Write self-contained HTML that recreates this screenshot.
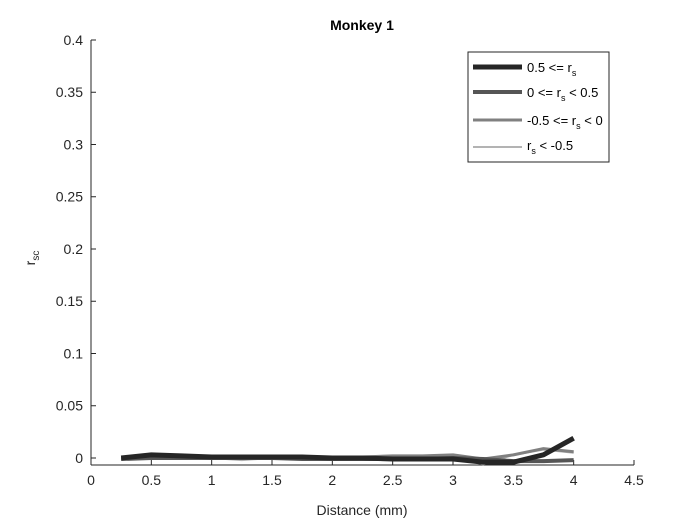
<!DOCTYPE html>
<html><head><meta charset="utf-8"><style>
body{margin:0;background:#fff;font-family:"Liberation Sans",sans-serif}
svg text{font-family:"Liberation Sans",sans-serif}
</style></head><body>
<svg width="700" height="525">
<rect width="700" height="525" fill="#fff"/>
<g id="axes"></g><g id="series"></g>
<text x="362" y="30" text-anchor="middle" font-size="14" font-weight="bold">Monkey 1</text>
<text x="362" y="515" text-anchor="middle" font-size="14" fill="#262626">Distance (mm)</text>
<text transform="translate(35,258) rotate(-90)" text-anchor="middle" font-size="14" fill="#262626">r<tspan font-size="10" dy="4">sc</tspan></text>
<g>
<rect x="468" y="52" width="141" height="110" fill="#fff" stroke="#262626" stroke-width="1"/>
<line x1="473" y1="67" x2="522" y2="67" stroke="#262626" stroke-width="5"/>
<text x="527" y="72" font-size="13">0.5 &lt;= r<tspan font-size="9" dy="4">s</tspan></text>
<line x1="473" y1="92" x2="522" y2="92" stroke="#555" stroke-width="4"/>
<text x="527" y="97" font-size="13">0 &lt;= r<tspan font-size="9" dy="4">s</tspan><tspan dy="-4"> &lt; 0.5</tspan></text>
<line x1="473" y1="120" x2="522" y2="120" stroke="#808080" stroke-width="3"/>
<text x="527" y="125" font-size="13">-0.5 &lt;= r<tspan font-size="9" dy="4">s</tspan><tspan dy="-4"> &lt; 0</tspan></text>
<line x1="473" y1="147" x2="522" y2="147" stroke="#b3b3b3" stroke-width="2"/>
<text x="527" y="150" font-size="13">r<tspan font-size="9" dy="4">s</tspan><tspan dy="-4"> &lt; -0.5</tspan></text>
</g>
</svg>
<script>
const xs=[0.25,0.5,0.75,1,1.25,1.5,1.75,2,2.25,2.5,2.75,3,3.25,3.5,3.75,4];
const s1=[0,0.003,0.002,0.001,0.001,0.001,0.001,0,0,-0.001,-0.001,-0.001,-0.004,-0.004,0.003,0.019];
const s2=[-0.001,0,0,0,0,0,-0.001,-0.001,-0.001,-0.001,-0.001,0,-0.001,-0.003,-0.003,-0.002];
const s3=[0,0.001,0.001,0.001,0,0.001,0.001,0.001,0.001,0.002,0.002,0.003,-0.001,0.003,0.009,0.006];
const s4=[-0.001,-0.001,0,0,-0.002,0,0,0,0.001,0.001,0.001,0.001,-0.006,0.003,0.008,0.005];
const xticks=[0,0.5,1,1.5,2,2.5,3,3.5,4,4.5];
const yticks=[0,0.05,0.1,0.15,0.2,0.25,0.3,0.35,0.4];
const L=91,R=634,T=40,B=465,xmax=4.5,ymin=-0.0067,ymax=0.4;
const X=v=>L+(v/xmax)*(R-L), Y=v=>B-(v-ymin)/(ymax-ymin)*(B-T);
const ns='http://www.w3.org/2000/svg';
const ax=document.getElementById('axes'), se=document.getElementById('series');
function mk(t,a,p){const e=document.createElementNS(ns,t);for(const k in a)e.setAttribute(k,a[k]);p.appendChild(e);return e;}
const xl=mk('line',{x1:L,y1:B,x2:R,y2:B,stroke:'#262626'},ax);


const yl=mk('line',{x1:L,y1:T,x2:L,y2:B,stroke:'#262626'},ax);


xticks.forEach(v=>{mk('line',{x1:X(v),y1:B,x2:X(v),y2:B-5,stroke:'#262626'},ax);
const t=mk('text',{x:X(v),y:B+20,'text-anchor':'middle','font-size':14,fill:'#262626'},ax);t.textContent=v;

});
yticks.forEach(v=>{mk('line',{x1:L,y1:Y(v),x2:L+5,y2:Y(v),stroke:'#262626'},ax);
const t=mk('text',{x:L-8,y:Y(v)+5,'text-anchor':'end','font-size':14,fill:'#262626'},ax);t.textContent=v;

});
[[s4,'#b3b3b3',2,'series-rs-lt-neg0.5'],[s3,'#808080',3,'series-rs-neg0.5-0'],[s2,'#555',4,'series-rs-0-0.5'],[s1,'#262626',5,'series-rs-ge-0.5']].forEach(([d,c,w,n])=>{
const p=mk('polyline',{points:xs.map((x,i)=>X(x)+','+Y(d[i])).join(' '),fill:'none',stroke:c,'stroke-width':w,'stroke-linejoin':'round'},se);

});
</script>
</body></html>
